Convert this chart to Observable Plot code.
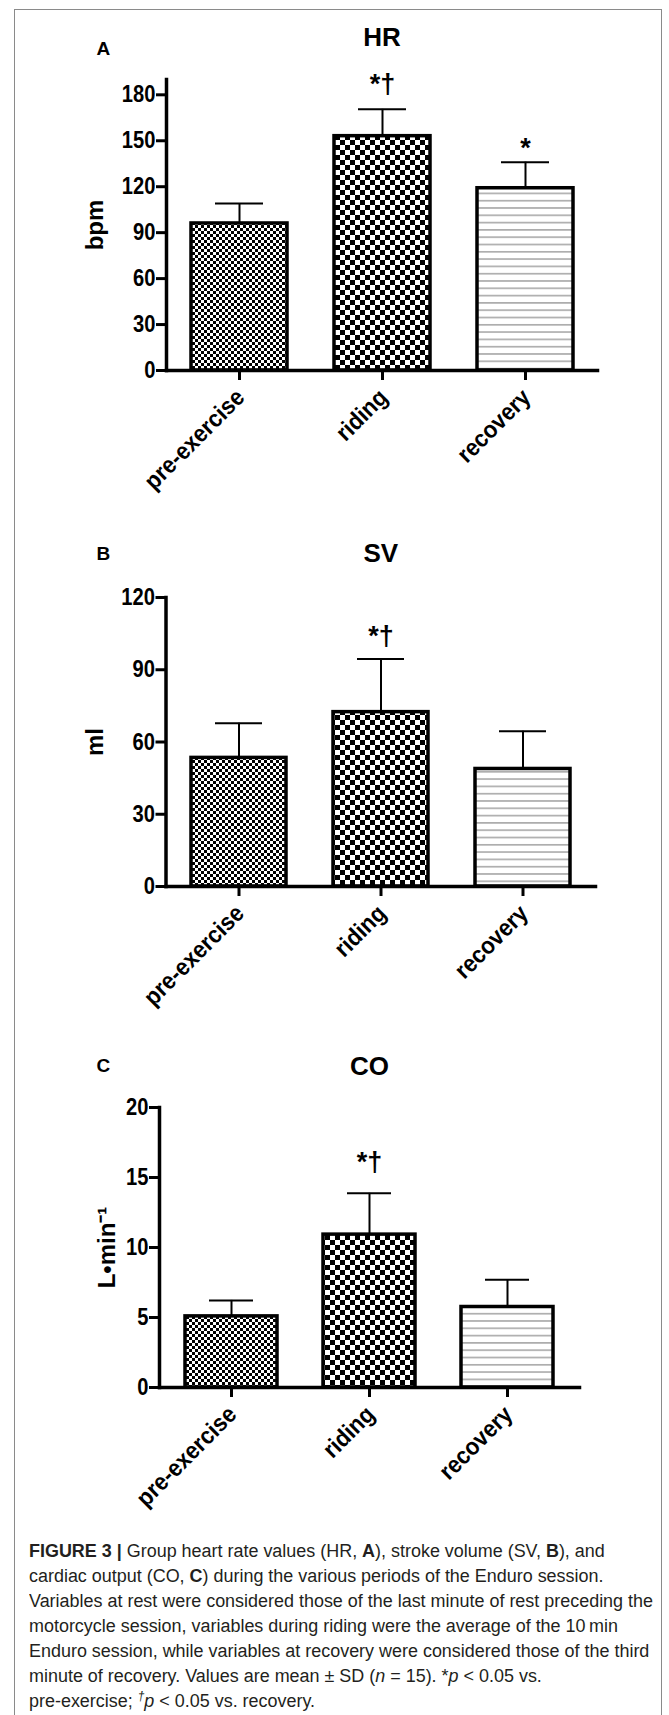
<!DOCTYPE html>
<html><head><meta charset="utf-8">
<script src="https://cdn.jsdelivr.net/npm/d3@7"></script>
<script src="https://cdn.jsdelivr.net/npm/@observablehq/plot@0.6"></script>
<style>
html,body{margin:0;padding:0;background:#fff;}
body{width:669px;height:1715px;position:relative;overflow:hidden;font-family:"Liberation Sans",Arial,sans-serif;}
#frame{position:absolute;left:14px;top:9px;width:648px;height:1800px;border:1px solid #8a8a8a;border-bottom:none;box-sizing:border-box;}
.panel{position:absolute;left:0;width:669px;}
.panel svg{overflow:visible;}
#caption{position:absolute;left:29px;top:1539px;color:#231f20;transform-origin:0 0;}
#caption .ln{white-space:nowrap;height:25px;line-height:25px;font-size:18px;}
#caption b{font-weight:bold;}
</style></head><body>
<div id="frame"></div>
<div id="pA" class="panel" style="top:0px"></div>
<div id="pB" class="panel" style="top:520px"></div>
<div id="pC" class="panel" style="top:1040px"></div>
<div id="caption">
<div class="ln"><b>FIGURE 3 |</b> Group heart rate values (HR, <b>A</b>), stroke volume (SV, <b>B</b>), and</div>
<div class="ln">cardiac output (CO, <b>C</b>) during the various periods of the Enduro session.</div>
<div class="ln" id="refline">Variables at rest were considered those of the last minute of rest preceding the</div>
<div class="ln">motorcycle session, variables during riding were the average of the 10&#8201;min</div>
<div class="ln">Enduro session, while variables at recovery were considered those of the third</div>
<div class="ln">minute of recovery. Values are mean ± SD (<i>n</i> = 15). *<i>p</i> &lt; 0.05 vs.</div>
<div class="ln">pre-exercise; <sup style="font-size:12px;line-height:0"><i>†</i></sup><i>p</i> &lt; 0.05 vs. recovery.</div>
</div>
<script>
// ---- data ----
const periods = ["pre-exercise", "riding", "recovery"];

const hrMean = [96, 153, 119];
const hrSD   = [13, 17.5, 17];
const hrTicks = [0, 30, 60, 90, 120, 150, 180];
const hrSig = ["", "*†", "*"];
const hrSigY = [null, 187, 145];

const svMean = [53.4, 72.4, 48.8];
const svSD   = [14.4, 22.1, 15.7];
const svTicks = [0, 30, 60, 90, 120];
const svSig = ["", "*†", ""];
const svSigY = [null, 104, null];

const coMean = [5.08, 10.92, 5.75];
const coSD   = [1.14, 2.95, 1.95];
const coTicks = [0, 5, 10, 15, 20];
const coSig = ["", "*†", ""];
const coSigY = [null, 16.1, null];

const FONT = "'Liberation Sans', Arial, sans-serif";

function defsMark(prefix) {
  return () => {
    const ns = "http://www.w3.org/2000/svg";
    const defs = document.createElementNS(ns, "defs");
    defs.innerHTML =
      `<pattern id="${prefix}-p0" patternUnits="userSpaceOnUse" width="6" height="6">
         <rect width="6" height="6" fill="#fff"/>
         <rect x="0" y="0" width="3" height="3" fill="#000"/>
         <rect x="3" y="3" width="3" height="3" fill="#000"/>
       </pattern>
       <pattern id="${prefix}-p1" patternUnits="userSpaceOnUse" width="10" height="10">
         <rect width="10" height="10" fill="#fff"/>
         <rect x="0" y="0" width="5" height="5" fill="#000"/>
         <rect x="5" y="5" width="5" height="5" fill="#000"/>
       </pattern>
       <pattern id="${prefix}-p2" patternUnits="userSpaceOnUse" width="10" height="7.3">
         <rect width="10" height="7.3" fill="#fff"/>
         <rect x="0" y="3" width="10" height="1.2" fill="#8c8c8c"/>
       </pattern>`;
    return defs;
  };
}

function panel(cfg) {
  const rows = periods.map((p, i) => ({
    period: p, mean: cfg.mean[i], sd: cfg.sd[i], sig: cfg.sig[i], sigY: cfg.sigY[i], idx: i
  }));
  const svg = Plot.plot({
    width: 669,
    height: 500,
    marginTop: cfg.mt, marginBottom: cfg.mb, marginLeft: cfg.ml, marginRight: cfg.mr,
    style: {fontFamily: FONT, fontWeight: "bold", color: "#000", background: "transparent", overflow: "visible"},
    x: {domain: periods, paddingInner: 0.33, paddingOuter: cfg.po, label: null},
    y: {domain: cfg.domain, label: null},
    color: {type: "identity"},
    marks: [
      defsMark(cfg.id),
      Plot.barY(rows, {x: "period", y: "mean", fill: d => `url(#${cfg.id}-p${d.idx})`, stroke: "#000", strokeWidth: 3.5}),
      Plot.ruleX(rows, {x: "period", y1: "mean", y2: d => d.mean + d.sd, stroke: "#000", strokeWidth: 2}),
      Plot.tickY(rows, {x: "period", y: d => d.mean + d.sd, stroke: "#000", strokeWidth: 2, insetLeft: 24, insetRight: 24}),
      Plot.text(rows.filter(d => d.sig), {x: "period", y: "sigY", text: "sig", fontSize: 27, fontWeight: "bold", lineAnchor: "middle"}),
      Plot.axisY({ticks: cfg.ticks, tickSize: 10, tickPadding: 1, strokeWidth: 3, fontSize: 24, fontWeight: "bold", label: null, tickFormat: d => String(d)}),
      // x tick marks (no text)
      Plot.axisX({tickSize: 10, strokeWidth: 3, fill: "none", label: null}),
      // x tick labels, rotated
      Plot.axisX({tickSize: 0, tickPadding: 14, tickRotate: -45, fontSize: 24, fontWeight: "bold", label: null, dx: 1, dy: 9}),
      Plot.frame({anchor: "left", strokeWidth: 3.5, stroke: "#000"}),
      Plot.frame({anchor: "bottom", strokeWidth: 3.5, stroke: "#000"}),
      Plot.text([cfg.ylabel], {text: d => d, frameAnchor: "left", rotate: -90, dx: cfg.ylx, fontSize: 24, fontWeight: "bold", textAnchor: "middle", lineAnchor: "middle"}),
      Plot.text([cfg.title], {text: d => d, frameAnchor: "top", dy: cfg.tdy, fontSize: 26, fontWeight: "bold", textAnchor: "middle", lineAnchor: "middle"}),
      Plot.text([cfg.letter], {text: d => d, frameAnchor: "top-left", dx: cfg.ldx, dy: cfg.ldy, fontSize: 19, fontWeight: "bold", textAnchor: "start", lineAnchor: "middle"})
    ]
  });
  // the original figure uses a narrow face for tick labels: condense glyphs along the text direction
  svg.querySelectorAll('g[aria-label="y-axis tick label"] text').forEach(t => {
    t.setAttribute("transform", (t.getAttribute("transform") || "") + " scale(0.84,1)");
  });
  svg.querySelectorAll('g[aria-label="x-axis tick label"] text').forEach(t => {
    t.setAttribute("transform", (t.getAttribute("transform") || "") + " scale(0.92,1)");
  });
  return svg;
}

document.getElementById("pA").append(panel({
  id: "a", mean: hrMean, sd: hrSD, sig: hrSig, sigY: hrSigY, ticks: hrTicks, domain: [0, 190],
  mt: 79, mb: 130, ml: 166, mr: 72, po: 0.167,
  ylabel: "bpm", ylx: -71, title: "HR", tdy: -42, letter: "A", ldx: -70, ldy: -31
}));
document.getElementById("pB").append(panel({
  id: "b", mean: svMean, sd: svSD, sig: svSig, sigY: svSigY, ticks: svTicks, domain: [0, 120],
  mt: 77, mb: 134, ml: 165.5, mr: 74, po: 0.167,
  ylabel: "ml", ylx: -71, title: "SV", tdy: -44, letter: "B", ldx: -69.5, ldy: -44
}));
document.getElementById("pC").append(panel({
  id: "c", mean: coMean, sd: coSD, sig: coSig, sigY: coSigY, ticks: coTicks, domain: [0, 20],
  mt: 67, mb: 153, ml: 159, mr: 90, po: 0.18,
  ylabel: "L•min⁻¹", ylx: -52, title: "CO", tdy: -41, letter: "C", ldx: -63, ldy: -42
}));

// fit caption width to the figure column
const ref = document.getElementById("refline");
const w = ref.scrollWidth;
const cap = document.getElementById("caption");
cap.style.transform = `scaleX(${624 / w})`;
</script>
</body></html>
